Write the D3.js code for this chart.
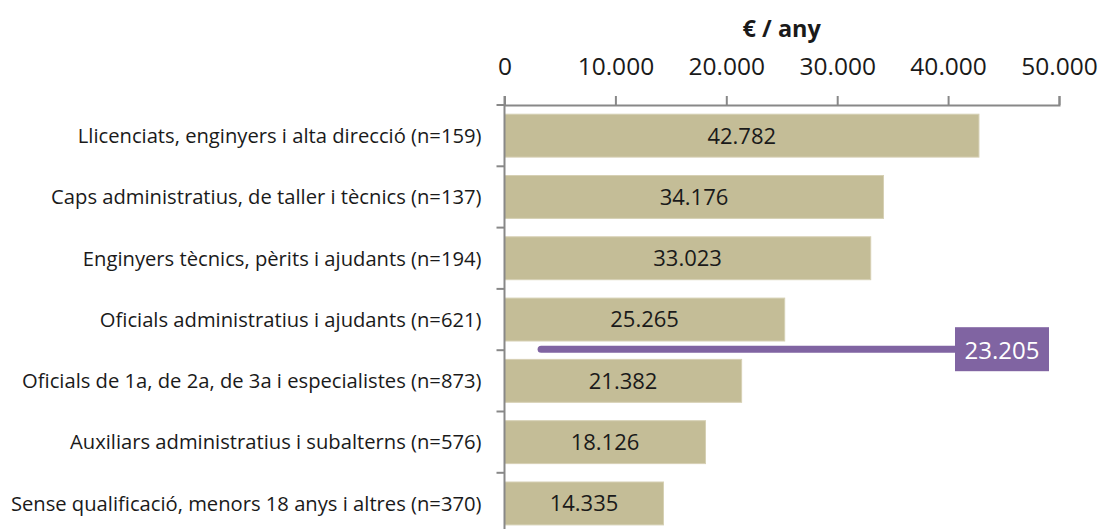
<!DOCTYPE html>
<html>
<head>
<meta charset="utf-8">
<script src="https://cdn.jsdelivr.net/npm/d3@7"></script>
<style>
  body { margin: 0; background: #fff; }
  text { font-family: "Open Sans", "Noto Sans", sans-serif; }
</style>
</head>
<body>
<div id="chart"></div>
<script>
// data
const categories = [
  "Llicenciats, enginyers i alta direcció (n=159)",
  "Caps administratius, de taller i tècnics (n=137)",
  "Enginyers tècnics, pèrits i ajudants (n=194)",
  "Oficials administratius i ajudants (n=621)",
  "Oficials de 1a, de 2a, de 3a i especialistes (n=873)",
  "Auxiliars administratius i subalterns (n=576)",
  "Sense qualificació, menors 18 anys i altres (n=370)"
]
const values = [42782, 34176, 33023, 25265, 21382, 18126, 14335]
const tickValues = [0, 10000, 20000, 30000, 40000, 50000]
const average = 23205
const axisTitle = "€ / any"

const W = 1100, H = 529
const margin = {top: 105, left: 504.5, right: 41}
const step = 61.3

const fmt = v => d3.format(",")(v).replace(/,/g, ".")

const svg = d3.select("#chart")
  .append("svg")
  .attr("width", W)
  .attr("height", H)

const x = d3.scaleLinear()
  .domain([0, 50000])
  .range([margin.left, W - margin.right])

const y = d3.scaleBand()
  .domain(categories)
  .range([margin.top, margin.top + step * categories.length])
  .paddingInner(0.3)
  .paddingOuter(0.15)

// bars
svg.selectAll(".bar")
  .data(values)
  .enter()
  .append("rect")
  .attr("class", "bar")
  .attr("x", x(0))
  .attr("y", (d, i) => y(categories[i]))
  .attr("width", d => x(d) - x(0))
  .attr("height", y.bandwidth())
  .attr("fill", "#c4bd97")
  .attr("stroke", "#d6d0b4")
  .attr("stroke-width", 1)

svg.selectAll(".val")
  .data(values)
  .enter()
  .append("text")
  .attr("class", "val")
  .attr("x", d => (x(0) + x(d)) / 2)
  .attr("y", (d, i) => y(categories[i]) + y.bandwidth() / 2)
  .attr("dy", "0.36em")
  .attr("text-anchor", "middle")
  .attr("font-size", 22)
  .attr("fill", "#1a1a1a")
  .text(d => fmt(d))

// top axis
const xAxis = svg.append("g")
  .attr("transform", "translate(0," + margin.top + ")")
  .call(d3.axisTop(x).tickValues(tickValues).tickSize(9).tickPadding(21).tickFormat(fmt))
xAxis.select(".domain").attr("stroke", "#888").attr("stroke-width", 2)
xAxis.selectAll(".tick line").attr("stroke", "#888").attr("stroke-width", 2)
xAxis.selectAll(".tick text")
  .attr("font-size", 24.5)
  .attr("fill", "#1a1a1a")
  .attr("font-family", "\"Open Sans\", sans-serif")

svg.append("text")
  .attr("x", (x(0) + x(50000)) / 2)
  .attr("y", 37)
  .attr("text-anchor", "middle")
  .attr("font-size", 23.5)
  .attr("font-weight", "bold")
  .attr("fill", "#1a1a1a")
  .text(axisTitle)

// left axis: line + ticks at band edges
const yAxis = svg.append("g")
svg.append("line")
  .attr("x1", x(0)).attr("x2", x(0))
  .attr("y1", margin.top - 9).attr("y2", H)
  .attr("stroke", "#888").attr("stroke-width", 2)
yAxis.selectAll("line.tk")
  .data(categories)
  .enter()
  .append("line")
  .attr("class", "tk")
  .attr("x1", x(0) - 8).attr("x2", x(0))
  .attr("y1", d => y(d) - y.step() * y.paddingOuter())
  .attr("y2", d => y(d) - y.step() * y.paddingOuter())
  .attr("stroke", "#888").attr("stroke-width", 2)

yAxis.selectAll("text")
  .data(categories)
  .enter()
  .append("text")
  .attr("x", x(0) - 23)
  .attr("y", d => y(d) + y.bandwidth() / 2)
  .attr("dy", "0.36em")
  .attr("text-anchor", "end")
  .attr("font-size", 20.2)
  .attr("fill", "#1a1a1a")
  .text(d => d)

// average marker between 4th and 5th category
const avgY = y(categories[4]) - y.step() * y.paddingOuter() - 1
const boxW = 94, boxH = 44
const boxX = 955
svg.append("line")
  .attr("x1", x(3300))
  .attr("x2", boxX + 4)
  .attr("y1", avgY).attr("y2", avgY)
  .attr("stroke", "#8064a2")
  .attr("stroke-width", 7)
  .attr("stroke-linecap", "round")
svg.append("rect")
  .attr("x", boxX)
  .attr("y", avgY - 22)
  .attr("width", boxW)
  .attr("height", boxH)
  .attr("fill", "#8064a2")
svg.append("text")
  .attr("x", boxX + boxW / 2)
  .attr("y", avgY + 1)
  .attr("dy", "0.36em")
  .attr("text-anchor", "middle")
  .attr("font-size", 24)
  .attr("fill", "#fff")
  .text(fmt(average))
</script>
</body>
</html>
